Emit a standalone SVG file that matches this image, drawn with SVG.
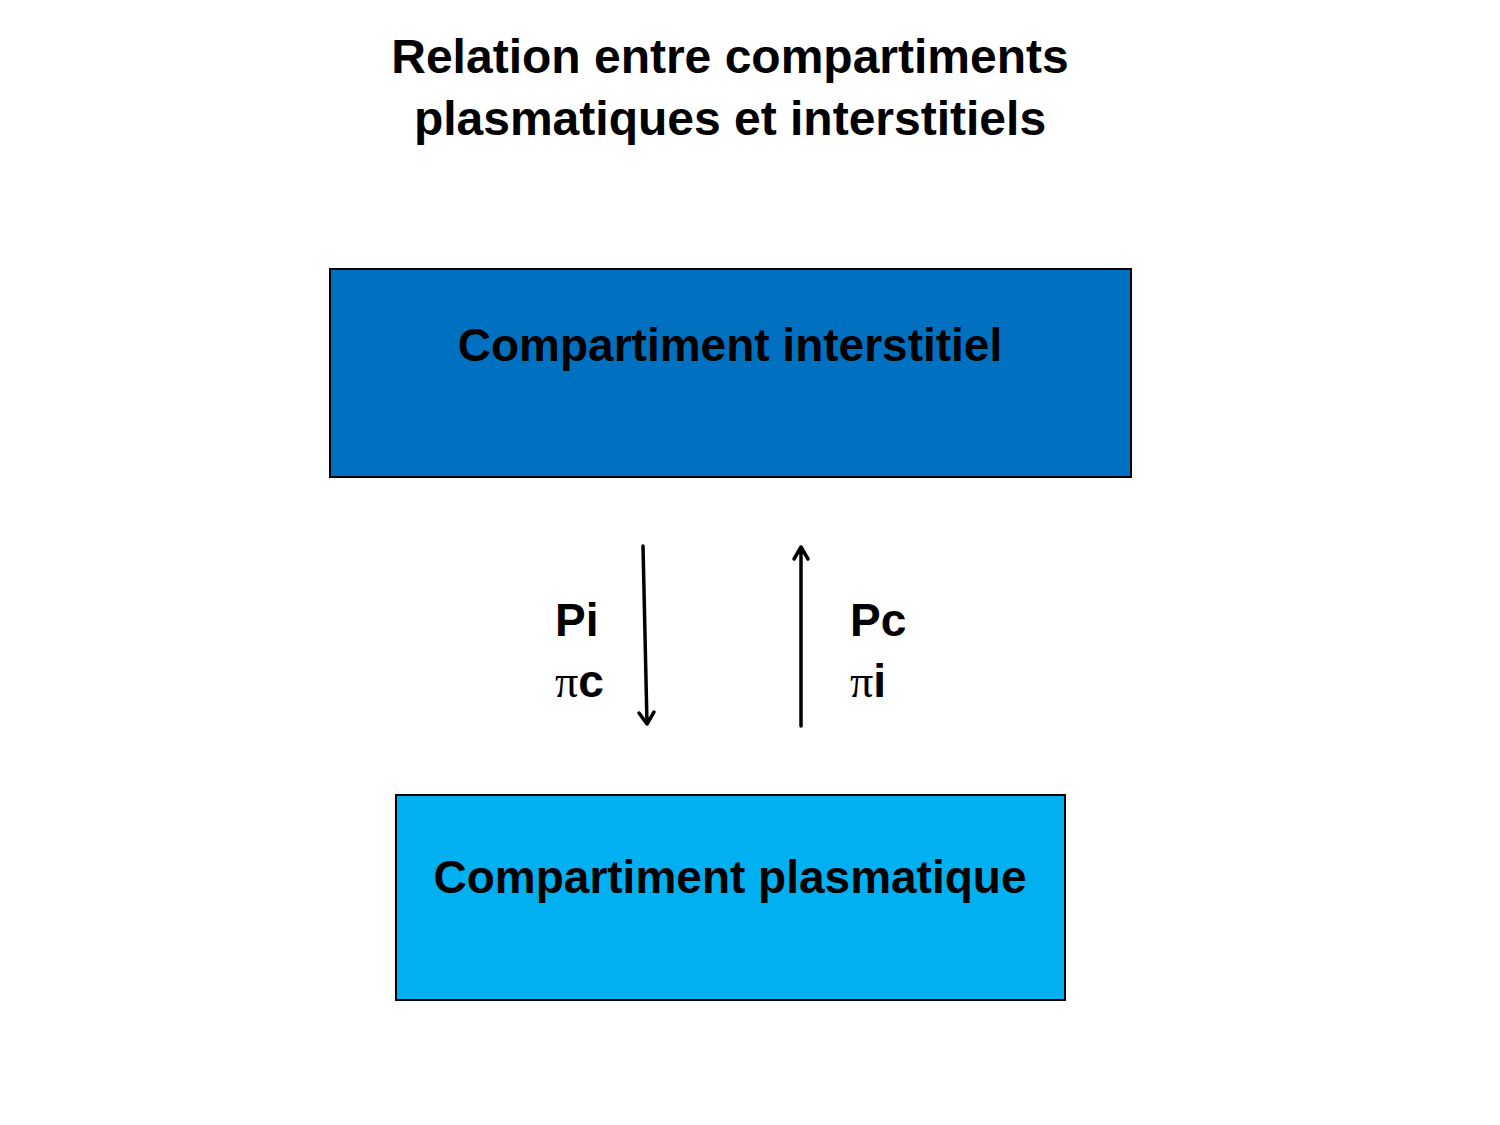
<svg xmlns="http://www.w3.org/2000/svg" width="1500" height="1125" viewBox="0 0 1500 1125">
<style>
text{font-family:"Liberation Sans",Arial,sans-serif;font-weight:bold;fill:#000}
.t{font-size:48px;text-anchor:middle}
.b{font-size:46px;text-anchor:middle}
.l{font-size:46px}
.pi{font-family:"Liberation Serif","Times New Roman",serif;font-weight:normal}
.box{stroke:#000;stroke-width:2}
.c{stroke:#000;stroke-width:3.5;fill:none;stroke-linecap:round;stroke-linejoin:round}
</style>
<rect width="1500" height="1125" fill="#fff"/>
<g id="title">
<text class="t" x="730" y="73">Relation entre compartiments</text>
<text class="t" x="730" y="135">plasmatiques et interstitiels</text>
</g>
<g id="interstitiel">
<rect class="box" x="330" y="269" width="801" height="208" fill="#0070C0"/>
<text class="b" x="730" y="361">Compartiment interstitiel</text>
</g>
<g id="plasmatique">
<rect class="box" x="396" y="795" width="669" height="205" fill="#00B0F0"/>
<text class="b" x="730" y="893">Compartiment plasmatique</text>
</g>
<g id="connectors">
<path class="c" d="M643,546 L647,724 M639,713 L647,724 L654,712"/>
<path class="c" d="M801,726 L801,547 M794,559 L801,547 L808,559"/>
</g>
<g id="labels">
<text class="l" x="555" y="636">Pi</text>
<text class="l" x="555" y="697"><tspan class="pi">π</tspan>c</text>
<text class="l" x="850" y="636">Pc</text>
<text class="l" x="850" y="697"><tspan class="pi">π</tspan>i</text>
</g>
</svg>
